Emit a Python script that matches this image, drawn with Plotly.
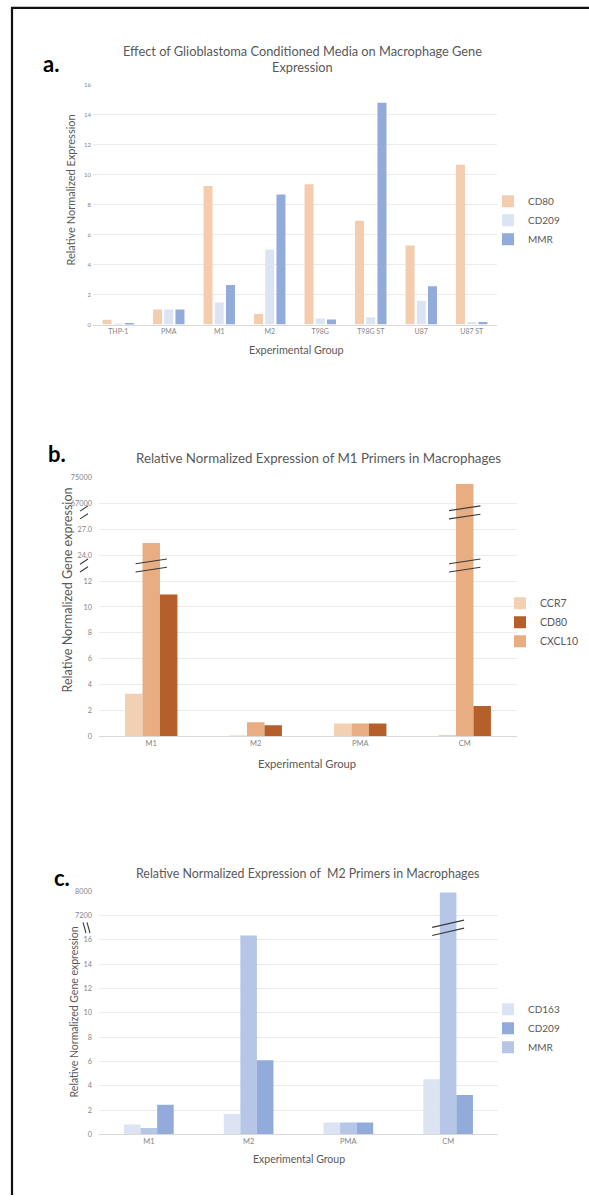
import numpy as np
import plotly.graph_objects as go

W, H = 589, 1200

# ---------------- data ----------------
# panel a
a_groups = ["THP-1", "PMA", "M1", "M2", "T98G", "T98G ST", "U87", "U87 ST"]
a_cd80 = [0.32, 1.0, 9.23, 0.70, 9.34, 6.92, 5.27, 10.64]
a_cd209 = [0.02, 1.0, 1.47, 5.0, 0.40, 0.48, 1.58, 0.17]
a_mmr = [0.10, 1.0, 2.64, 8.66, 0.33, 14.77, 2.55, 0.17]

# panel b
b_groups = ["M1", "M2", "PMA", "CM"]
b_ccr7 = [3.3, 0.05, 1.0, 0.12]
b_cxcl10 = [25.4, 1.09, 1.0, 73000]
b_cd80 = [10.96, 0.87, 1.0, 2.36]
b_tick_vals = [0, 2, 4, 6, 8, 10, 12, 24.0, 27.0, 67000, 75000]
b_tick_text = ["0", "2", "4", "6", "8", "10", "12", "24.0", "27.0", "67000", "75000"]
b_segments = [[0, 1, 2, 3, 4, 5, 6], [7, 8], [9, 10]]   # tick indices of each axis segment

# panel c
c_groups = ["M1", "M2", "PMA", "CM"]
c_cd163 = [0.81, 1.68, 0.98, 4.55]
c_mmr = [0.54, 16.37, 0.98, 7960]
c_cd209 = [2.44, 6.1, 0.98, 3.25]
c_tick_vals = [0, 2, 4, 6, 8, 10, 12, 14, 16, 7200, 8000]
c_tick_text = ["0", "2", "4", "6", "8", "10", "12", "14", "16", "7200", "8000"]
c_segments = [[0, 1, 2, 3, 4, 5, 6, 7, 8], [9, 10]]

# ---------------- helpers ----------------
def px_x(p):
    return p / W

def px_y(p):
    return 1 - p / H

def broken(vals, ticks, segments):
    """map real values onto the evenly spaced positions of a broken axis
    (linear inside each segment, extended past its last tick)"""
    out = []
    for v in vals:
        seg = segments[0]
        for s in segments:
            if v >= ticks[s[0]]:
                seg = s
        i0, i1 = seg[0], seg[1]
        step = ticks[i1] - ticks[i0]
        out.append(i0 + (v - ticks[i0]) / step)
    return out

FONT = "Lato, 'Open Sans', sans-serif"
TICK_C = "#858585"
TXT_C = "#595959"
GRID_C = "#ECECEC"

fig = go.Figure()

# ---------------- panel a ----------------
wa = 0.178
pa = 0.222
for name, vals, col, off in [
    ("CD80", a_cd80, "#F4CDAE", -pa - wa / 2),
    ("CD209", a_cd209, "#DCE4F3", -wa / 2),
    ("MMR", a_mmr, "#92ABDB", pa - wa / 2),
]:
    fig.add_trace(go.Bar(x=a_groups, y=vals, name=name, marker_color=col,
                         marker_line_width=0, width=wa, offset=off,
                         xaxis="x", yaxis="y", legend="legend"))

# ---------------- panel b ----------------
wb = 0.167
for name, vals, col, off, rank in [
    ("CCR7", b_ccr7, "#F2D0B3", -1.5 * wb, 1),
    ("CXCL10", b_cxcl10, "#E8AE82", -0.5 * wb, 3),
    ("CD80", b_cd80, "#B5602A", 0.5 * wb, 2),
]:
    fig.add_trace(go.Bar(x=b_groups, y=broken(vals, b_tick_vals, b_segments), name=name,
                         marker_color=col, marker_line_width=0, width=wb,
                         offset=off, customdata=vals,
                         hovertemplate="%{x}: %{customdata}<extra>" + name + "</extra>",
                         xaxis="x2", yaxis="y2", legend="legend2", legendrank=rank))

# ---------------- panel c ----------------
wc = 0.166
for name, vals, col, off, rank in [
    ("CD163", c_cd163, "#DCE4F3", -1.5 * wc, 1),
    ("MMR", c_mmr, "#B5C6E6", -0.5 * wc, 3),
    ("CD209", c_cd209, "#92ABDB", 0.5 * wc, 2),
]:
    fig.add_trace(go.Bar(x=c_groups, y=broken(vals, c_tick_vals, c_segments), name=name,
                         marker_color=col, marker_line_width=0, width=wc,
                         offset=off, customdata=vals,
                         hovertemplate="%{x}: %{customdata}<extra>" + name + "</extra>",
                         xaxis="x3", yaxis="y3", legend="legend3", legendrank=rank))

def xax(size):
    return dict(showgrid=False, showline=True, linecolor="#D9D9D9", linewidth=1,
                ticks="", tickfont=dict(family=FONT, size=size, color=TICK_C),
                fixedrange=True)

def yax(size, standoff):
    return dict(showgrid=True, gridcolor=GRID_C, gridwidth=1, zeroline=False,
                showline=False, ticks="", ticklabelstandoff=standoff,
                tickfont=dict(family=FONT, size=size, color=TICK_C),
                fixedrange=True)

fig.update_layout(
    width=W, height=H,
    margin=dict(l=0, r=0, t=0, b=0),
    paper_bgcolor="white", plot_bgcolor="white",
    barmode="overlay",
    font=dict(family=FONT, color=TXT_C),
    xaxis=dict(domain=[px_x(93), px_x(497)], anchor="y", **xax(7)),
    yaxis=dict(domain=[px_y(323), px_y(81)], anchor="x", range=[0, 16], dtick=2, **yax(6, 1)),
    xaxis2=dict(domain=[px_x(99), px_x(517)], anchor="y2", **xax(7.5)),
    yaxis2=dict(domain=[px_y(738), px_y(477)], anchor="x2", range=[0, 10],
                tickvals=list(range(len(b_tick_vals))), ticktext=b_tick_text, **yax(7.3, 6)),
    xaxis3=dict(domain=[px_x(99), px_x(498)], anchor="y3", **xax(7.5)),
    yaxis3=dict(domain=[px_y(1139), px_y(894)], anchor="x3", range=[0, 10],
                tickvals=list(range(len(c_tick_vals))), ticktext=c_tick_text, **yax(7.3, 6)),
    legend=dict(x=px_x(488), y=px_y(218), xanchor="left", yanchor="middle",
                font=dict(family=FONT, size=10, color=TXT_C), bgcolor="rgba(0,0,0,0)"),
    legend2=dict(x=px_x(500), y=px_y(623), xanchor="left", yanchor="middle",
                 font=dict(family=FONT, size=10.5, color=TXT_C), bgcolor="rgba(0,0,0,0)",
                 traceorder="normal"),
    legend3=dict(x=px_x(488), y=px_y(1032), xanchor="left", yanchor="middle",
                 font=dict(family=FONT, size=10, color=TXT_C), bgcolor="rgba(0,0,0,0)",
                 traceorder="normal"),
    showlegend=True,
)

ann = []
def text(x, y, s, size, color=TXT_C, angle=0, bold=False, xanchor="center"):
    ann.append(dict(x=px_x(x), y=px_y(y), xref="paper", yref="paper", text=s,
                    showarrow=False, textangle=angle, xanchor=xanchor, yanchor="middle",
                    font=dict(family=FONT, size=size, color=color,
                              weight="bold" if bold else "normal")))

# panel labels
text(51, 60, "a.", 22, color="black", bold=True)
text(57, 453, "b.", 22, color="black", bold=True)
text(62, 880, "c.", 22, color="black", bold=True)

# titles
text(302, 47, "Effect of Glioblastoma Conditioned Media on Macrophage Gene", 12.8)
text(302, 63, "Expression", 12.8)
text(318, 457, "Relative Normalized Expression of M1 Primers in Macrophages", 13.3)
text(307, 876, "Relative Normalized Expression of  M2 Primers in Macrophages", 12.4)

# axis titles
text(296, 348, "Experimental Group", 10.8)
text(307, 765, "Experimental Group", 11.2)
text(299, 1164, "Experimental Group", 10.5)
text(71, 188, "Relative Normalized Expression", 11, angle=-90)
text(68, 591, "Relative Normalized Gene expression", 12.6, angle=-90)
text(74, 1016, "Relative Normalized Gene expression", 10.5, angle=-90)

fig.update_layout(annotations=ann)

shapes = []
# outer frame (left and top edges)
shapes.append(dict(type="line", xref="paper", yref="paper", x0=px_x(12), x1=px_x(12),
                   y0=px_y(3), y1=0, line=dict(color="#111111", width=2.2)))
shapes.append(dict(type="line", xref="paper", yref="paper", x0=px_x(11), x1=1,
                   y0=px_y(4), y1=px_y(4), line=dict(color="#111111", width=2.2)))

BRK = dict(color="#3a3a3a", width=1.1)

def bar_break(xref, yref, cx, pos, half=0.15, rise=0.18, sep=0.32):
    for d in (-sep / 2, sep / 2):
        shapes.append(dict(type="line", xref=xref, yref=yref,
                           x0=cx - half, x1=cx + half,
                           y0=pos + d - rise / 2, y1=pos + d + rise / 2, line=BRK))

def axis_break(yref, xpix, pos, rise, sep, dx=8):
    for d in (-sep / 2, sep / 2):
        shapes.append(dict(type="line", xref="paper", yref=yref,
                           x0=px_x(xpix), x1=px_x(xpix + dx),
                           y0=pos + d - rise / 2, y1=pos + d + rise / 2, line=BRK))

# panel b breaks: between tick 12 and 24.0, and between 27.0 and 67000
b_lo = 6.6
b_hi = 8.65
bar_break("x2", "y2", 0, b_lo)   # M1 CXCL10 (middle bar of the group)
bar_break("x2", "y2", 3, b_lo)   # CM CXCL10
bar_break("x2", "y2", 3, b_hi)
axis_break("y2", 80, b_lo, 0.2, 0.3)
axis_break("y2", 80, b_hi, 0.2, 0.3)

# panel c breaks: between 16 and 7200
c_mid = 8.5
bar_break("x3", "y3", 3, c_mid, half=0.16, rise=0.3, sep=0.33)
for dx in (0, 4):
    shapes.append(dict(type="line", xref="paper", yref="y3",
                       x0=px_x(83 + dx), x1=px_x(86 + dx),
                       y0=c_mid + 0.22, y1=c_mid - 0.22, line=BRK))

fig.update_layout(shapes=shapes)

fig.write_html("out.html", config={"displayModeBar": False},
               post_script="document.body.style.margin='0';")
